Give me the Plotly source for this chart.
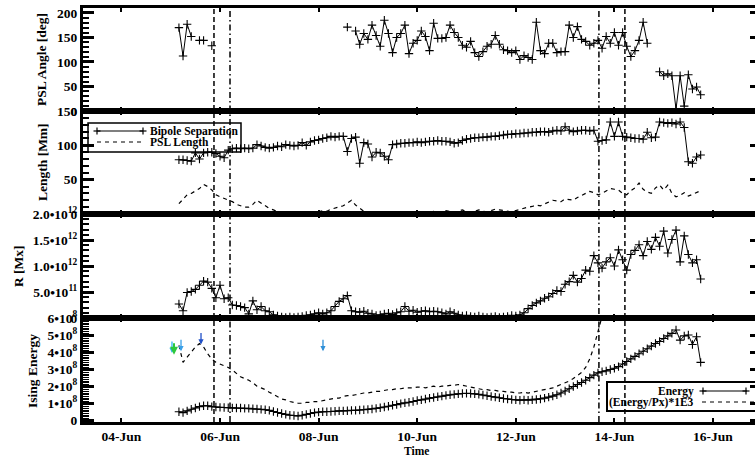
import pandas as pd
import plotly.graph_objects as go
from plotly.subplots import make_subplots

# ---------------- data ----------------
times = pd.date_range("2014-06-05 04:00", periods=128, freq="2h")

psl_angle = [170, 112, 177, 152, None, 144, 144, None, 133, None,
             None, None, None, None, None, None, None, None, None, None,
             None, None, None, None, None, None, None, None, None, None,
             None, None, None, None, None, None, None, None, None, None,
             None, 171, None, 163, 136, 158, 146, 175, 154, 132,
             185, 158, 119, 150, 158, 175, 117, 138, 144, 163,
             152, 123, 179, 148, 148, 150, 175, 160, 150, 134,
             130, 142, 119, 111, 121, 132, 136, 154, 136, 125,
             123, 119, 123, 105, 113, 109, 105, 181, 123, 117,
             138, 138, 119, 121, 121, 175, 150, 172, 146, 142,
             134, 138, 144, 128, 152, 138, 160, 134, 160, 132,
             111, 123, 144, 181, 138, None, None, 80, 72, 76,
             72, 4, 72, 10, 74, 45, 49, 33]

bipole_sep = [79, 79, 78, 77, 89, 80, 89, 90, 90, 88,
              84, 82, 93, 95, 96, 95, 96, 95, 96, 101,
              99, 97, 96, 97, 99, 98, 101, 100, 99, 100,
              104, 100, 105, 107, 108, 110, 111, 113, 112, 113,
              113, 91, 110, 112, 74, 104, 102, 83, 90, 89,
              84, 79, 101, 102, 103, 103, 104, 104, 105, 104,
              105, 106, 106, 107, 106, 106, 105, 103, 104, 107,
              109, 110, 111, 111, 112, 112, 113, 113, 114, 115,
              116, 116, 117, 117, 118, 118, 119, 119, 120, 120,
              119, 121, 122, 121, 127, 122, 120, 121, 122, 122,
              121, 122, 106, 107, 108, 134, 113, 134, 113, 112,
              111, 110, 110, 109, 119, 111, 112, 134, 133, 132,
              133, 131, 134, 126, 76, 74, 83, 86]

psl_length = [15, 22, 28, 30, 33, 37, 43, 40, 35, 28,
              25, 23, 20, 18, 14, 12, 10, 10, 14, 20,
              16, 12, 8, 6, 3, 1, 1, 0, 1, 0,
              1, 2, 0, 1, 3, 5, 4, 7, 9, 10,
              12, 16, 20, 13, 8, 4, 2, 1, 1, 0,
              1, 2, 0, 1, 1, 2, 1, 2, 3, 2,
              3, 2, 4, 3, 2, 5, 3, 2, 4, 6,
              3, 2, 4, 6, 4, 3, 5, 7, 6, 5,
              4, 3, 5, 7, 8, 10, 11, 13, 12, 15,
              18, 20, 19, 18, 22, 21, 20, 24, 27, 30,
              33, 31, 28, 30, 34, 37, 36, 35, 30, 28,
              34, 38, 45, 36, 32, 30, 38, 42, 35, 42,
              30, 25, 27, 31, 26, 29, 32, 34]

# R in units of 1e11 Mx
r_value = [2.7, 1.4, 4.9, 5.1, 5.5, 6.3, 7.1, 6.9, 5.7, 3.9,
           6.3, 3.7, 3.9, 2.5, 2.4, 2.2, 2.0, 0.8, 3.3, 1.6,
           2.2, 1.4, 1.2, 0.6, 0.4, 0.2, 0.1, 0.2, 0.1, 0.2,
           0.3, 0.5, 0.6, 0.8, 1.0, 0.8, 1.0, 1.4, 2.2, 3.2,
           3.7, 4.3, 1.4, 1.2, 1.1, 1.3, 0.9, 0.8, 0.5, 0.6,
           0.8, 0.9, 0.7, 1.0, 1.2, 2.2, 1.3, 1.5, 1.1, 1.3,
           1.4, 1.2, 1.3, 1.2, 1.0, 0.8, 1.2, 0.9, 0.6, 0.4,
           0.5, 0.3, 0.2, 0.4, 0.2, 0.1, 0.2, 0.3, 0.1, 0.2,
           0.3, 0.5, 0.4, 0.6, 1.0, 1.8, 2.4, 2.9, 3.3, 3.8,
           4.1, 4.7, 5.3, 5.1, 6.5, 7.0, 8.2, 6.9, 7.6, 9.2,
           9.0, 12.0, 10.6, 9.6, 10.8, 11.6, 10.0, 13.1, 11.2, 9.2,
           12.2, 13.0, 14.1, 12.0, 14.7, 13.2, 15.5, 13.8, 16.7, 12.5,
           15.1, 16.9, 10.8, 15.8, 12.2, 10.6, 11.2, 7.5]

# Ising energy in units of 1e8
energy = [0.50, 0.45, 0.55, 0.65, 0.72, 0.80, 0.85, 0.85, 0.80, 0.78,
          0.76, 0.75, 0.74, 0.73, 0.72, 0.72, 0.70, 0.70, 0.68, 0.66,
          0.64, 0.62, 0.58, 0.52, 0.46, 0.40, 0.35, 0.30, 0.28, 0.25,
          0.30, 0.35, 0.40, 0.45, 0.48, 0.50, 0.50, 0.52, 0.53, 0.55,
          0.55, 0.56, 0.58, 0.58, 0.60, 0.62, 0.64, 0.66, 0.70, 0.74,
          0.78, 0.82, 0.88, 0.92, 0.98, 1.02, 1.06, 1.10, 1.16, 1.20,
          1.25, 1.30, 1.34, 1.38, 1.42, 1.46, 1.50, 1.52, 1.55, 1.57,
          1.58, 1.57, 1.55, 1.52, 1.48, 1.44, 1.40, 1.36, 1.32, 1.28,
          1.25, 1.22, 1.20, 1.18, 1.20, 1.18, 1.20, 1.22, 1.25, 1.30,
          1.36, 1.42, 1.50, 1.60, 1.72, 1.85, 1.98, 2.10, 2.22, 2.35,
          2.50, 2.65, 2.78, 2.85, 2.90, 2.98, 3.05, 3.15, 3.30, 3.45,
          3.60, 3.75, 3.90, 4.05, 4.20, 4.35, 4.50, 4.62, 4.80, 4.95,
          5.10, 5.30, 4.70, 4.95, 5.00, 4.45, 4.90, 3.40]

# (Energy/Px)*1E3 in units of 1e8
energy_px = [4.4, 3.4, 3.7, 4.0, 4.3, 4.5, 4.3, 3.9, 3.6, 3.4,
             3.3, 3.2, 3.1, 2.95, 2.75, 2.55, 2.45, 2.35, 2.2, 2.0,
             1.9, 1.8, 1.65, 1.5, 1.35, 1.25, 1.2, 1.1, 1.05, 1.0,
             1.0, 1.05, 1.05, 1.1, 1.1, 1.15, 1.2, 1.25, 1.3, 1.3,
             1.4, 1.45, 1.45, 1.5, 1.55, 1.6, 1.6, 1.65, 1.7, 1.7,
             1.75, 1.8, 1.8, 1.85, 1.85, 1.9, 1.9, 1.9, 1.95, 1.95,
             1.9, 1.95, 2.0, 1.95, 2.0, 2.0, 2.05, 2.05, 2.1, 2.05,
             2.0, 1.95, 1.9, 1.85, 1.8, 1.8, 1.75, 1.75, 1.7, 1.7,
             1.65, 1.65, 1.6, 1.6, 1.65, 1.6, 1.65, 1.7, 1.75, 1.8,
             1.85, 1.9, 2.0, 2.1, 2.2, 2.3, 2.45, 2.6, 2.8, 3.1,
             3.6, 4.3, 5.2, 6.3, 7.0, 7.2, 7.5, 7.8, 8.0, 8.2,
             8.4, 8.6, 8.8, 9.0, 9.2, 9.3, 9.4, 9.5, 9.6, 9.7,
             9.8, 9.9, 9.7, 9.8, 9.6, 9.5, 9.4, 9.0]

dashed_events = ["2014-06-05 21:04", "2014-06-14 05:07"]
dashdot_events = ["2014-06-06 04:52", "2014-06-13 16:28"]

flare_times = ["2014-06-05 00:37", "2014-06-05 01:36", "2014-06-05 05:01",
               "2014-06-05 14:45", "2014-06-08 02:08"]
flare_tip = [3.95, 3.85, 4.05, 4.45, 4.05]
flare_colors = ["#33b5f0", "#2ec83c", "#3aa0e8", "#2050c8", "#3090d8"]
flare_widths = [1.3, 2.0, 1.3, 1.3, 1.3]

x_range = ["2014-06-03 05:18", "2014-06-16 20:27"]

# ---------------- figure ----------------
W, H = 755, 460
L, R, T, B = 83, 755, 8, 422
FONT = "Liberation Serif"


def px(x):
    return (x - L) / (R - L)


def py(y):
    return (B - y) / (B - T)


fig = make_subplots(rows=4, cols=1, shared_xaxes=True, vertical_spacing=0)

cross = dict(symbol="cross-thin", size=6, line=dict(width=1.1, color="black"))
DASH = "4px,4px"

fig.add_trace(go.Scatter(x=times, y=psl_angle, mode="lines+markers",
                         line=dict(color="black", width=1), marker=cross,
                         showlegend=False), row=1, col=1)
fig.add_trace(go.Scatter(x=times, y=bipole_sep, mode="lines+markers",
                         line=dict(color="black", width=1), marker=cross,
                         showlegend=False), row=2, col=1)
fig.add_trace(go.Scatter(x=times, y=psl_length, mode="lines",
                         line=dict(color="black", width=1.2, dash=DASH),
                         showlegend=False), row=2, col=1)
fig.add_trace(go.Scatter(x=times, y=r_value, mode="lines+markers",
                         line=dict(color="black", width=1), marker=cross,
                         showlegend=False), row=3, col=1)
fig.add_trace(go.Scatter(x=times, y=energy_px, mode="lines",
                         line=dict(color="black", width=1.2, dash=DASH),
                         showlegend=False), row=4, col=1)
fig.add_trace(go.Scatter(x=times, y=energy, mode="lines+markers",
                         line=dict(color="black", width=1), marker=cross,
                         showlegend=False), row=4, col=1)

domains = [[py(111), 1.0], [py(214), py(111)], [py(318), py(214)], [0.0, py(318)]]

xcommon = dict(type="date", range=x_range, tick0="2014-06-04", dtick=2 * 86400000,
               tickformat="%d-%b", ticks="inside", ticklen=4, tickwidth=2,
               tickcolor="black", showline=True, linewidth=3, linecolor="black",
               mirror="ticks", showgrid=False, zeroline=False, automargin=False,
               tickfont=dict(family=FONT, size=13.5, color="black", weight="bold"))
ycommon = dict(ticks="inside", ticklen=11, tickwidth=2.5, tickcolor="black",
               showline=True, linewidth=3, linecolor="black", mirror=True,
               showgrid=False, zeroline=False, automargin=False,
               tickfont=dict(family=FONT, size=13.5, color="black", weight="bold"))

for i in range(1, 5):
    fig.update_xaxes(row=i, col=1, **xcommon)
    fig.update_xaxes(row=i, col=1, showticklabels=(i == 4), ticklabelstandoff=0)

y_ranges = [[0, 210], [0, 150], [0, 20], [-0.1, 6.0]]
y_tickvals = [[0, 50, 100, 150, 200], [0, 50, 100, 150], [0, 5, 10, 15, 20],
              [0, 1, 2, 3, 4, 5, 6]]
y_minor = [10, 10, 1, 0.1]

fig.update_yaxes(row=1, col=1, domain=domains[0], range=y_ranges[0],
                 tickvals=y_tickvals[0],
                 minor=dict(dtick=y_minor[0], ticks="inside", ticklen=6, tickwidth=1.5,
                            tickcolor="black", showgrid=False), **ycommon)
fig.update_yaxes(row=2, col=1, domain=domains[1], range=y_ranges[1],
                 tickvals=y_tickvals[1],
                 minor=dict(dtick=y_minor[1], ticks="inside", ticklen=6, tickwidth=1.5,
                            tickcolor="black", showgrid=False), **ycommon)
fig.update_yaxes(row=3, col=1, domain=domains[2], range=y_ranges[2],
                 tickvals=y_tickvals[2],
                 ticktext=["0", "5.0•10<sup>11</sup>", "1.0•10<sup>12</sup>",
                           "1.5•10<sup>12</sup>", "2.0•10<sup>12</sup>"],
                 minor=dict(dtick=y_minor[2], ticks="inside", ticklen=6, tickwidth=1.5,
                            tickcolor="black", showgrid=False), **ycommon)
fig.update_yaxes(row=4, col=1, domain=domains[3], range=y_ranges[3],
                 tickvals=y_tickvals[3],
                 ticktext=["0"] + [f"{k}•10<sup>8</sup>" for k in range(1, 7)],
                 minor=dict(dtick=y_minor[3], ticks="inside", ticklen=6, tickwidth=1.2,
                            tickcolor="black", showgrid=False), **ycommon)

# right-hand axes: only short major tick stubs (the frame is cropped on the right)
xnames = ["x", "x2", "x3", "x4"]
for k in range(4):
    yname = f"yaxis{k + 5}"
    fig.update_layout({yname: dict(overlaying=("y" if k == 0 else f"y{k + 1}"),
                                   anchor=xnames[k], side="right", range=y_ranges[k],
                                   tickvals=y_tickvals[k], showticklabels=False,
                                   ticks="inside", ticklen=5, tickwidth=2.5,
                                   tickcolor="black", showline=False, showgrid=False,
                                   zeroline=False, automargin=False)})
    fig.add_trace(go.Scatter(x=[times[0]], y=[None], xaxis=xnames[k], yaxis=f"y{k + 5}",
                             mode="lines", showlegend=False, hoverinfo="skip"))

shapes = []
# vertical event lines across all panels
for t in dashed_events:
    shapes.append(dict(type="line", xref="x", yref="paper", x0=t, x1=t, y0=0, y1=1,
                       line=dict(color="black", width=1.5, dash="5px,3px")))
for t in dashdot_events:
    shapes.append(dict(type="line", xref="x", yref="paper", x0=t, x1=t, y0=0, y1=1,
                       line=dict(color="black", width=1.5, dash="6px,3px,1.5px,3px")))


def cross_shapes(x, y, s=3.5, w=1.2):
    return [dict(type="line", xref="paper", yref="paper", x0=px(x - s), x1=px(x + s),
                 y0=py(y), y1=py(y), line=dict(color="black", width=w)),
            dict(type="line", xref="paper", yref="paper", x0=px(x), x1=px(x),
                 y0=py(y - s), y1=py(y + s), line=dict(color="black", width=w))]


# legend panel 2
shapes.append(dict(type="rect", xref="paper", yref="paper", x0=px(88), x1=px(241),
                   y0=py(152), y1=py(123), line=dict(color="black", width=1.5)))
shapes.append(dict(type="line", xref="paper", yref="paper", x0=px(97), x1=px(143),
                   y0=py(131), y1=py(131), line=dict(color="black", width=1.2)))
shapes += cross_shapes(97, 131) + cross_shapes(143, 131)
shapes.append(dict(type="line", xref="paper", yref="paper", x0=px(97), x1=px(143),
                   y0=py(142), y1=py(142), line=dict(color="black", width=1.2, dash=DASH)))
# legend panel 4
shapes.append(dict(type="rect", xref="paper", yref="paper", x0=px(607), x1=px(765),
                   y0=py(411), y1=py(382), line=dict(color="black", width=2)))
shapes.append(dict(type="line", xref="paper", yref="paper", x0=px(702), x1=px(747),
                   y0=py(391), y1=py(391), line=dict(color="black", width=1.2)))
shapes += cross_shapes(703, 391) + cross_shapes(746, 391)
shapes.append(dict(type="line", xref="paper", yref="paper", x0=px(702), x1=px(757),
                   y0=py(402), y1=py(402), line=dict(color="black", width=1.2, dash=DASH)))

annotations = []


def text(xp, yp, s, size=13.5, angle=0, xanchor="center"):
    annotations.append(dict(xref="paper", yref="paper", x=px(xp), y=py(yp), text=s,
                            showarrow=False, textangle=angle, xanchor=xanchor,
                            yanchor="middle",
                            font=dict(family=FONT, size=size, color="black", weight="bold")))


text(41, 60, "PSL Angle [deg]", angle=-90)
text(42, 162, "Length [Mm]", angle=-90)
text(18, 266, "R [Mx]", angle=-90)
text(32, 371, "Ising Energy", angle=-90)
text(416, 451, "Time", size=11.5)
text(148, 131, "Bipole Separation", size=11.5, xanchor="left")
text(148, 142, "PSL Length", size=11.5, xanchor="left")
text(696, 391, "Energy", size=11.5, xanchor="right")
text(696, 402, "(Energy/Px)*1E3", size=11.5, xanchor="right")

for t, yv, c, w in zip(flare_times, flare_tip, flare_colors, flare_widths):
    annotations.append(dict(xref="x4", yref="y4", x=t, y=yv, text="", showarrow=True,
                            ax=0, ay=-13, arrowhead=2, arrowsize=0.8, arrowwidth=w,
                            arrowcolor=c))

fig.update_layout(width=W, height=H, margin=dict(l=L, r=W - R, t=T, b=H - B),
                  paper_bgcolor="white", plot_bgcolor="white",
                  font=dict(family=FONT, size=13.5, color="black"),
                  shapes=shapes, annotations=annotations, showlegend=False)

fig.write_html("out.html")
